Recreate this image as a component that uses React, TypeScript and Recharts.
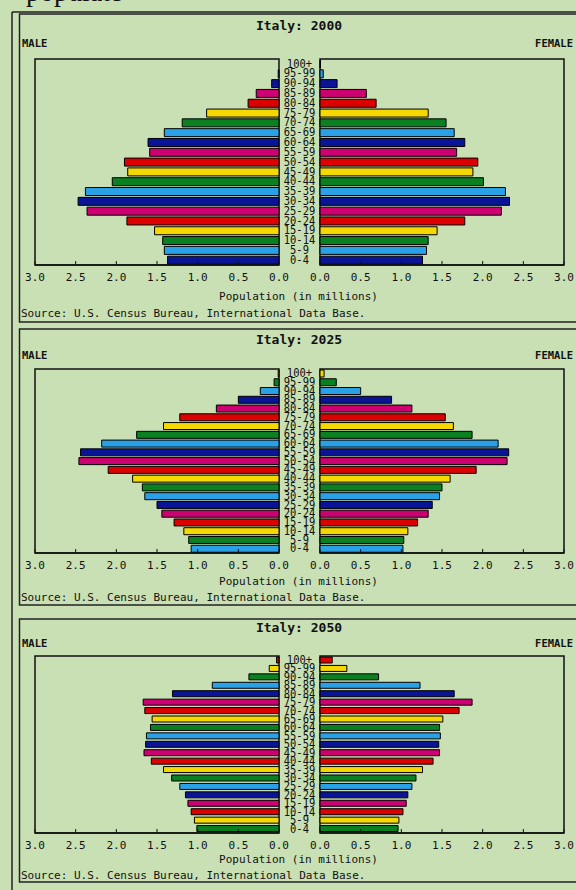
import React from 'react';
import { BarChart, Bar, XAxis, YAxis, Cell, ReferenceArea } from 'recharts';

// age groups, bottom of the pyramid first
const ages = ['0-4', '5-9', '10-14', '15-19', '20-24', '25-29', '30-34', '35-39', '40-44', '45-49', '50-54',
  '55-59', '60-64', '65-69', '70-74', '75-79', '80-84', '85-89', '90-94', '95-99', '100+'];
const xTicks = [0, 0.5, 1, 1.5, 2, 2.5, 3];
const years = ['2000', '2025', '2050'];

// population in millions
const male2000 = [1.37, 1.41, 1.43, 1.53, 1.87, 2.36, 2.47, 2.38, 2.05, 1.86, 1.9, 1.59, 1.61, 1.41, 1.19, 0.89, 0.38, 0.28, 0.09, 0.01, 0];
const female2000 = [1.26, 1.31, 1.33, 1.44, 1.78, 2.23, 2.33, 2.28, 2.01, 1.88, 1.94, 1.68, 1.78, 1.65, 1.55, 1.33, 0.69, 0.57, 0.21, 0.04, 0.005];
const male2025 = [1.08, 1.11, 1.17, 1.29, 1.44, 1.5, 1.65, 1.68, 1.8, 2.1, 2.46, 2.44, 2.18, 1.75, 1.42, 1.22, 0.77, 0.5, 0.23, 0.06, 0.01];
const female2025 = [1.02, 1.03, 1.08, 1.2, 1.33, 1.38, 1.47, 1.5, 1.6, 1.92, 2.3, 2.32, 2.19, 1.87, 1.64, 1.54, 1.13, 0.88, 0.5, 0.2, 0.05];
const male2050 = [1.01, 1.04, 1.08, 1.12, 1.15, 1.22, 1.32, 1.42, 1.57, 1.66, 1.64, 1.63, 1.58, 1.56, 1.65, 1.67, 1.31, 0.82, 0.37, 0.12, 0.03];
const female2050 = [0.96, 0.97, 1.02, 1.06, 1.08, 1.13, 1.18, 1.26, 1.39, 1.47, 1.46, 1.48, 1.47, 1.51, 1.71, 1.87, 1.65, 1.23, 0.72, 0.33, 0.15];

const palette = ['#0a1496', '#2aa0e6', '#0a8020', '#f5d800', '#dc0000', '#cc0070'];
const MONO = '"DejaVu Sans Mono", "Liberation Mono", monospace';
const BG = '#c8e0b4';
const INK = '#111';

const panels = [
  { year: years[0], male: male2000, female: female2000, shift: 0, box: [14, 322], title: 25, sex: 43, plotTop: 59, plotBottom: 265, pop: 296, src: 313 },
  { year: years[1], male: male2025, female: female2025, shift: 1, box: [329, 605], title: 339, sex: 355, plotTop: 369, plotBottom: 553, pop: 581, src: 597 },
  { year: years[2], male: male2050, female: female2050, shift: 2, box: [619, 882], title: 627, sex: 643, plotTop: 656, plotBottom: 833, pop: 859, src: 875 },
];

function AgeTick(props: any) {
  const { x, y, payload } = props;
  return (
    <text
      x={x + 20.5}
      y={y}
      textAnchor="middle"
      dominantBaseline="central"
      fontFamily={MONO}
      fontSize={10.5}
      fill={INK}
      transform={`translate(0 ${y}) scale(1 1.15) translate(0 ${-y})`}
    >
      {payload.value}
    </text>
  );
}

const axisProps = {
  type: 'number' as const,
  domain: [0, 3],
  ticks: xTicks,
  interval: 0 as const,
  height: 24,
  tickSize: -4,
  tickMargin: 12,
  axisLine: { stroke: INK, strokeWidth: 1.5 },
  tickLine: { stroke: INK },
  tick: { fontSize: 11, fontFamily: MONO, fill: INK },
  tickFormatter: (v: number) => v.toFixed(1),
};

function Pyramid({ p }: { p: (typeof panels)[number] }) {
  const data = ages.map((age, i) => ({
    age,
    male: p.male[i],
    female: p.female[i],
    color: palette[(i + p.shift) % palette.length],
  }));
  const plotH = p.plotBottom - p.plotTop;
  const h = plotH + 4 + 24;

  return (
    <>
      <div style={{ position: 'absolute', left: 0, top: p.plotTop - 4 }}>
        <BarChart layout="vertical" width={320} height={h} data={data} barCategoryGap={1}
          margin={{ top: 4, right: 0, bottom: 0, left: 35 }} style={{ overflow: 'visible' }}>
          <ReferenceArea x1={0} x2={3} fill="none" fillOpacity={0} stroke={INK} strokeWidth={1.5} ifOverflow="visible" />
          <XAxis {...axisProps} reversed />
          <YAxis type="category" dataKey="age" orientation="right" reversed width={41} interval={0}
            axisLine={false} tickLine={false} tickSize={0} tickMargin={0} tick={<AgeTick />} />
          <Bar dataKey="male" stroke="#000" strokeWidth={1} isAnimationActive={false}>
            {data.map((d) => <Cell key={d.age} fill={d.color} />)}
          </Bar>
        </BarChart>
      </div>
      <div style={{ position: 'absolute', left: 300, top: p.plotTop - 4 }}>
        <BarChart layout="vertical" width={276} height={h} data={data} barCategoryGap={1}
          margin={{ top: 4, right: 12, bottom: 0, left: 20 }} style={{ overflow: 'visible' }}>
          <ReferenceArea x1={0} x2={3} fill="none" fillOpacity={0} stroke={INK} strokeWidth={1.5} ifOverflow="visible" />
          <XAxis {...axisProps} />
          <YAxis type="category" dataKey="age" reversed hide />
          <Bar dataKey="female" stroke="#000" strokeWidth={1} isAnimationActive={false}>
            {data.map((d) => <Cell key={d.age} fill={d.color} />)}
          </Bar>
        </BarChart>
      </div>
    </>
  );
}

export default function App() {
  return (
    <div style={{ position: 'fixed', left: 0, top: 0, width: 576, height: 890, background: BG, overflow: 'hidden' }}>
      <svg width={576} height={890} style={{ position: 'absolute', left: 0, top: 0 }}>
        <text x={26} y={1} fontFamily='"Liberation Serif", "DejaVu Serif", serif' fontSize={28} fill="#111">populate</text>
        <line x1={12} y1={12} x2={12} y2={890} stroke="#222" strokeWidth={1.5} />
        <line x1={12} y1={12} x2={576} y2={12} stroke="#222" strokeWidth={1.5} />
        {panels.map((p) => (
          <g key={p.year} fontFamily={MONO} fill={INK}>
            <rect x={19.5} y={p.box[0]} width={600} height={p.box[1] - p.box[0]} fill="none" stroke="#222" strokeWidth={1.5} />
            <text x={299} y={p.title} textAnchor="middle" dominantBaseline="central" fontSize={13} fontWeight="bold">
              {`Italy: ${p.year}`}
            </text>
            <text x={22} y={p.sex} dominantBaseline="central" fontSize={10.5} fontWeight="bold">MALE</text>
            <text x={573} y={p.sex} textAnchor="end" dominantBaseline="central" fontSize={10.5} fontWeight="bold">FEMALE</text>
            <text x={298.5} y={p.pop} textAnchor="middle" dominantBaseline="central" fontSize={11}>
              Population (in millions)
            </text>
            <text x={21} y={p.src} dominantBaseline="central" fontSize={11}>
              Source: U.S. Census Bureau, International Data Base.
            </text>
          </g>
        ))}
      </svg>
      {panels.map((p) => <Pyramid key={p.year} p={p} />)}
    </div>
  );
}
